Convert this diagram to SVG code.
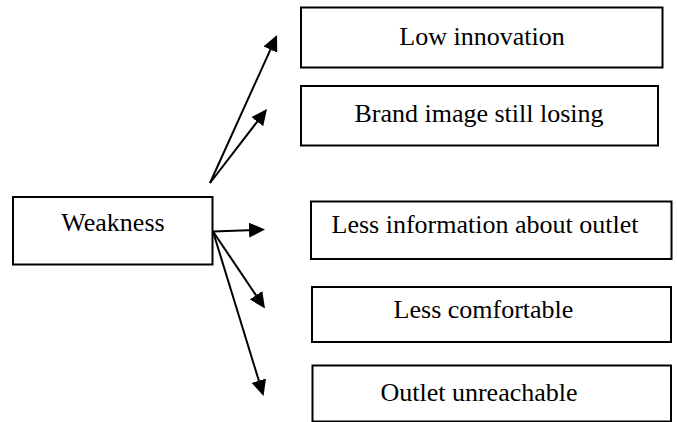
<svg xmlns="http://www.w3.org/2000/svg" width="677" height="422" viewBox="0 0 677 422">
<style>
rect.box{fill:#fff;stroke:#000;stroke-width:2}
text{font-family:"Liberation Serif","Times New Roman",serif;font-size:26px;fill:#000;text-anchor:middle}
#connectors line{stroke:#000;stroke-width:2;fill:none;marker-end:url(#arr)}
</style>
<defs>
<marker id="arr" markerUnits="userSpaceOnUse" markerWidth="16" markerHeight="15" refX="6" refY="7.5" orient="auto" viewBox="0 0 16 15">
<path d="M0,0 L16,7.5 L0,15 z" fill="#000"/>
</marker>
</defs>
<rect width="677" height="422" fill="#fff"/>
<g id="weakness"><rect class="box" x="13" y="197" width="199.5" height="67.5"/><text x="113" y="231">Weakness</text></g>
<g id="low-innovation"><rect class="box" x="301" y="7.5" width="361.5" height="60"/><text x="482" y="45">Low innovation</text></g>
<g id="brand-image"><rect class="box" x="301" y="86" width="357" height="59.5"/><text x="479" y="122">Brand image still losing</text></g>
<g id="less-information"><rect class="box" x="311" y="201.5" width="360.5" height="57.5"/><text x="485" y="233">Less information about outlet</text></g>
<g id="less-comfortable"><rect class="box" x="312" y="287" width="359" height="55"/><text x="483.5" y="318">Less comfortable</text></g>
<g id="outlet-unreachable"><rect class="box" x="312.5" y="365.5" width="358.5" height="56"/><text x="479" y="401">Outlet unreachable</text></g>
<g id="connectors">
<line x1="210" y1="183" x2="272.9" y2="44.1"/>
<line x1="210" y1="183" x2="260.9" y2="116.9"/>
<line x1="213" y1="231.5" x2="255" y2="229.9"/>
<line x1="213" y1="231.5" x2="259.4" y2="300.2"/>
<line x1="213" y1="231.5" x2="260.6" y2="386.4"/>
</g>
</svg>
